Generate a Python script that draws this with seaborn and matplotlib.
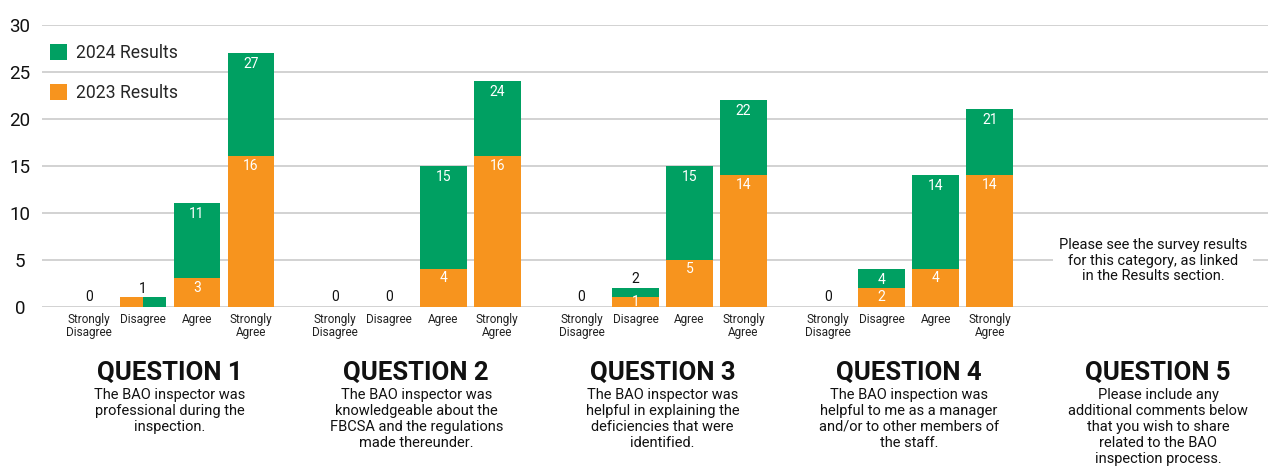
import matplotlib
matplotlib.use("Agg")
import matplotlib.pyplot as plt
from matplotlib.patches import Patch
import numpy as np
import pandas as pd
import seaborn as sns

# ---------------- data ----------------
categories = ["Strongly\nDisagree", "Disagree", "Agree", "Strongly\nAgree"]
questions = ["QUESTION 1", "QUESTION 2", "QUESTION 3", "QUESTION 4", "QUESTION 5"]
descriptions = [
    "The BAO inspector was\nprofessional during the\ninspection.",
    "The BAO inspector was\nknowledgeable about the\nFBCSA and the regulations\nmade thereunder.",
    "The BAO inspector was\nhelpful in explaining the\ndeficiencies that were\nidentified.",
    "The BAO inspection was\nhelpful to me as a manager\nand/or to other members of\nthe staff.",
    "Please include any\nadditional comments below\nthat you wish to share\nrelated to the BAO\ninspection process.",
]
results_2024 = [[0, 1, 11, 27], [0, 0, 15, 24], [0, 2, 15, 22], [0, 4, 14, 21]]
results_2023 = [[0, 1, 3, 16], [0, 0, 4, 16], [0, 1, 5, 14], [0, 2, 4, 14]]
q5_note = "Please see the survey results\nfor this category, as linked\nin the Results section."
y_ticks = [0, 5, 10, 15, 20, 25, 30]
legend_labels = ["2024 Results", "2023 Results"]

GREEN = "#00A062"
ORANGE = "#F7941E"
GROUP_STEP = 4.56
BAR_W = 0.87

sns.set_theme(style="white")
plt.rcParams["font.family"] = ["Roboto", "DejaVu Sans"]

rows = []
for q in range(4):
    for i, c in enumerate(categories):
        rows.append({"x": q * GROUP_STEP + i, "q": q, "cat": c,
                     "v24": results_2024[q][i], "v23": results_2023[q][i]})
df = pd.DataFrame(rows)

fig = plt.figure(figsize=(12.68, 4.72), dpi=100)
ax = fig.add_axes([42 / 1268, (472 - 306.5) / 472, 1 - 42 / 1268, (306.5 - 25) / 472])

sns.barplot(data=df, x="x", y="v24", native_scale=True, color=GREEN, width=BAR_W,
            saturation=1, errorbar=None, ax=ax, zorder=2, linewidth=0)
front = df[df["v23"] < df["v24"]]
sns.barplot(data=front, x="x", y="v23", native_scale=True, color=ORANGE, width=BAR_W,
            saturation=1, errorbar=None, ax=ax, zorder=3, linewidth=0)
eq = df[(df["v23"] == df["v24"]) & (df["v23"] > 0)]
for _, r in eq.iterrows():
    ax.bar(r["x"] - BAR_W / 4, r["v23"], width=BAR_W / 2, color=ORANGE, zorder=3, linewidth=0)

ax.set_xlim(-47 / 54, (1268 - 89) / 54)
ax.set_ylim(0, 30)
ax.set_yticks(y_ticks)
ax.set_yticklabels([str(t) for t in y_ticks])
ax.tick_params(axis="y", length=0, pad=16, labelsize=13.5, labelcolor="#111111")
for lab in ax.get_yticklabels():
    lab.set_horizontalalignment("center")
ax.set_xticks([])
ax.set_xlabel("")
ax.set_ylabel("")
ax.yaxis.grid(True, color="#cfcfcf", linewidth=1.3, zorder=0)
ax.set_axisbelow(True)
for s in ax.spines.values():
    s.set_visible(False)

# value labels
for _, r in df.iterrows():
    x, v24, v23 = r["x"], r["v24"], r["v23"]
    if v24 == 0:
        ax.text(x, 1.0, "0", ha="center", va="center", fontsize=10, color="#111111", zorder=5)
        continue
    if v23 == v24:
        ax.text(x, v24 + 0.9, str(v24), ha="center", va="center", fontsize=10, color="#111111", zorder=5)
        continue
    ax.text(x, max(v23 - 1.0, 0.5), str(v23), ha="center", va="center", fontsize=10,
            color="white", zorder=5)
    if v24 - v23 >= 2:
        ax.text(x, v24 - 1.15, str(v24), ha="center", va="center", fontsize=10,
                color="white", zorder=5)
    else:
        ax.text(x, v24 + 0.9, str(v24), ha="center", va="center", fontsize=10,
                color="#111111", zorder=5)

xt = ax.get_xaxis_transform()
for _, r in df.iterrows():
    ax.text(r["x"], -0.024, r["cat"], transform=xt, ha="center", va="top", fontsize=8.5,
            color="#222222", linespacing=1.0)

centers = [q * GROUP_STEP + 1.5 for q in range(5)]
centers[4] = (1158 - 89) / 54
for q in range(5):
    ax.text(centers[q], -0.235, questions[q], transform=xt, ha="center", va="center",
            fontsize=18.5, fontweight="bold", color="#111111")
    ax.text(centers[q], -0.288, descriptions[q], transform=xt, ha="center", va="top",
            fontsize=10.5, color="#111111", linespacing=1.2)

ax.text((1153 - 89) / 54, 4.9, q5_note, ha="center", va="center", fontsize=10.5,
        color="#111111", linespacing=1.15, zorder=4,
        bbox=dict(facecolor="white", edgecolor="none", pad=4))

handles = [Patch(facecolor=GREEN, edgecolor="none"), Patch(facecolor=ORANGE, edgecolor="none")]
fig.legend(handles, legend_labels, loc="upper left", bbox_to_anchor=(50 / 1268, 1 - 44 / 472),
           frameon=False, fontsize=12.7, handlelength=0.95, handleheight=0.95,
           handletextpad=0.55, labelspacing=1.25, borderpad=0, borderaxespad=0)

fig.savefig("out.png", dpi=100)
